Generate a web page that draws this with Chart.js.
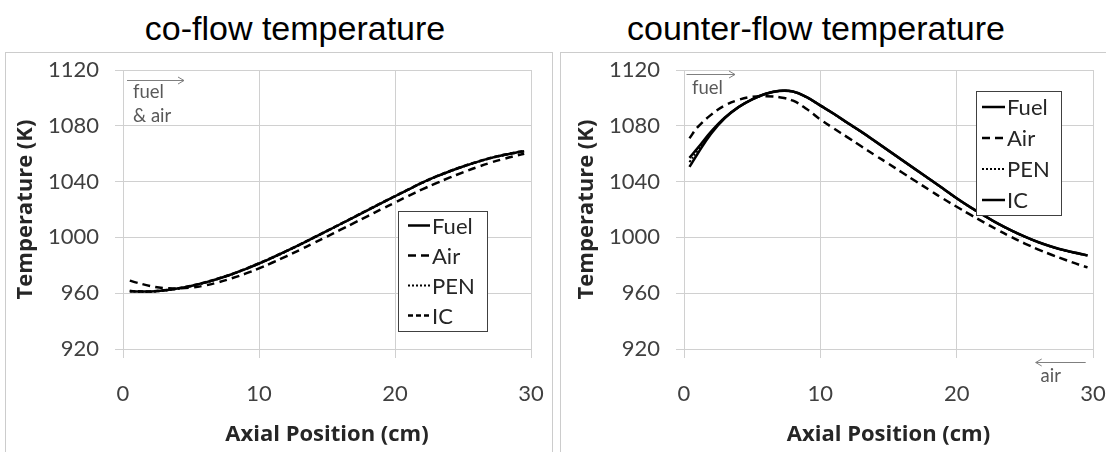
<!DOCTYPE html>
<html><head><meta charset="utf-8">
<script src="https://cdn.jsdelivr.net/npm/chart.js@4.4.1/dist/chart.umd.min.js"></script>
<style>
html,body{margin:0;padding:0;background:#fff;width:1106px;height:452px;overflow:hidden;}
#wrap{position:relative;width:1106px;height:452px;}
.panel{position:absolute;border:1px solid #cccccc;}
.ttl{position:absolute;font-family:"Liberation Sans",Arial,sans-serif;font-size:34px;line-height:40px;color:#000;white-space:nowrap;transform:translateX(-50%);}
canvas{position:absolute;top:0;}
</style></head><body>
<div id="wrap">
<div class="panel" style="left:5px;top:52px;width:546px;height:420px;"></div>
<div class="panel" style="left:560px;top:52px;width:560px;height:420px;"></div>
<div class="ttl" style="left:295px;top:8px;">co-flow temperature</div>
<div class="ttl" style="left:816px;top:8px;">counter-flow temperature</div>
<canvas id="c1" width="553" height="452" style="left:0"></canvas>
<canvas id="c2" width="550" height="452" style="left:556px"></canvas>
</div>
<script>
// ---------- data ----------
const xTicks = [0, 10, 20, 30];
const yTicks = [920, 960, 1000, 1040, 1080, 1120];
const seriesNames = ['Fuel', 'Air', 'PEN', 'IC'];

// co-flow (left)
const coX    = [0.5,1,2,3,4,5,6,7,8,9,10,11,12,13,14,15,16,17,18,19,20,21,22,23,24,25,26,27,28,29,29.5];
const coFuel = [961.5,961.3,961.2,962,963.3,965.2,967.6,970.4,973.6,977.3,981.3,985.6,990.1,994.8,999.7,1004.6,1009.6,1014.6,1019.6,1024.6,1029.5,1034.4,1039.2,1043.5,1047.3,1050.8,1054,1056.8,1059.1,1061,1061.8];
const coAir  = [969,967.6,965.2,963.7,963.4,964,965.5,967.8,970.7,974,977.8,982,986.4,991,995.8,1000.6,1005.5,1010.4,1015.3,1020.2,1025,1029.8,1034.4,1038.7,1042.8,1046.6,1050.2,1053.5,1056.3,1058.8,1060];
const coPEN  = [961.3,961.1,961,961.8,963.1,965,967.4,970.2,973.4,977.1,981.1,985.4,989.9,994.6,999.5,1004.4,1009.4,1014.4,1019.4,1024.4,1029.3,1034.2,1039,1043.3,1047.1,1050.6,1053.8,1056.6,1058.9,1060.8,1061.6];
const coIC   = [961.6,961.4,961.3,962.1,963.4,965.3,967.7,970.5,973.7,977.4,981.4,985.7,990.2,994.9,999.8,1004.7,1009.7,1014.7,1019.7,1024.7,1029.6,1034.5,1039.3,1043.6,1047.4,1050.9,1054.1,1056.9,1059.2,1061.1,1061.9];

// counter-flow (right)
const ctX    = [0.4,1,2,3,4,5,6,7,8,9,10,11,12,13,14,15,16,17,18,19,20,21,22,23,24,25,26,27,28,29,29.6];
const ctFuel = [1057,1064,1076,1086,1093.5,1099,1103,1105,1104.5,1100.5,1094.5,1088.5,1082,1075.7,1069,1062.2,1055.4,1048.6,1041.8,1035,1028,1021.6,1015.7,1010,1005,1000.5,996.5,993.2,990.5,988.3,987];
const ctAir  = [1071,1079,1088,1094.6,1098.6,1100.8,1101.2,1100.5,1098,1092,1084.5,1078,1071.7,1065.3,1059,1052.8,1046.5,1040.2,1034,1027.8,1022,1016.3,1010.8,1005.4,1000.3,995.6,991.3,987.4,983.8,980.3,978.5];
const ctPEN  = [1054,1062.5,1075.5,1085.8,1093.3,1098.9,1102.9,1104.9,1104.4,1100.4,1094.4,1088.4,1081.9,1075.6,1068.9,1062.1,1055.3,1048.5,1041.7,1034.9,1027.9,1021.5,1015.6,1009.9,1004.9,1000.4,996.4,993.1,990.4,988.2,986.9];
const ctIC   = [1050.5,1060,1074.5,1085.5,1093.4,1099,1103,1105.1,1104.6,1100.6,1094.6,1088.6,1082.1,1075.8,1069.1,1062.3,1055.5,1048.7,1041.9,1035.1,1028.1,1021.7,1015.8,1010.1,1005.1,1000.6,996.6,993.3,990.6,988.4,987.1];

// ---------- plugins ----------
const legendPlugin = {
  id: 'boxLegend',
  afterDatasetsDraw(chart, args, o) {
    const ctx = chart.ctx, a = chart.chartArea;
    const x = Math.round(a.left + o.dx), y = Math.round(a.top + o.dy);
    ctx.save();
    ctx.fillStyle = '#fff';
    ctx.fillRect(x, y, o.w, o.h);
    ctx.strokeStyle = '#404040'; ctx.lineWidth = 1;
    ctx.strokeRect(x + 0.5, y + 0.5, o.w, o.h);
    chart.data.datasets.forEach((ds, i) => {
      const cy = y + o.first + i * o.step;
      ctx.beginPath();
      ctx.setLineDash(ds.borderDash || []);
      ctx.lineWidth = ds.borderWidth;
      ctx.strokeStyle = ds.borderColor;
      ctx.moveTo(x + o.sx, cy); ctx.lineTo(x + o.sx + o.sw, cy);
      ctx.stroke();
      ctx.setLineDash([]);
      ctx.fillStyle = '#262626';
      ctx.font = '22px Lato';
      ctx.textBaseline = 'middle'; ctx.textAlign = 'left';
      ctx.fillText(ds.label, x + o.sx + o.sw + 2, cy + 1);
    });
    ctx.restore();
  }
};
const notesPlugin = {
  id: 'flowNotes',
  afterDraw(chart, args, o) {
    const ctx = chart.ctx, a = chart.chartArea;
    ctx.save();
    (o.items || []).forEach(it => {
      if (it.kind === 'arrow') {
        const x1 = a.left + it.x1, x2 = a.left + it.x2, y = Math.round(a.top + it.y) + 0.5;
        const d = x2 > x1 ? 1 : -1;
        ctx.strokeStyle = '#7f7f7f'; ctx.lineWidth = 1;
        ctx.beginPath(); ctx.moveTo(x1, y); ctx.lineTo(x2, y);
        ctx.moveTo(x2 - d * 6, y - 3.5); ctx.lineTo(x2, y); ctx.lineTo(x2 - d * 6, y + 3.5);
        ctx.stroke();
      } else {
        ctx.fillStyle = '#595959';
        ctx.font = '18.5px Lato';
        ctx.textBaseline = 'middle'; ctx.textAlign = 'left';
        ctx.fillText(it.text, a.left + it.x, a.top + it.y);
      }
    });
    ctx.restore();
  }
};

const gridC = '#d0d0d0';
const titleFont = { family: '"Open Sans"', size: 22, weight: 'bold' };
function makeChart(id, xs, series, cfg) {
  const datasets = series.map((s, i) => ({
    label: seriesNames[i],
    data: xs.map((x, j) => ({ x: x, y: s[j] })),
    borderColor: '#000',
    borderWidth: cfg.styles[i].w,
    borderDash: cfg.styles[i].dash,
    pointRadius: 0,
    fill: false,
    tension: 0.4
  }));
  return new Chart(document.getElementById(id), {
    type: 'line',
    data: { datasets },
    options: {
      responsive: false, animation: false, events: [],
      layout: { padding: { left: 0, right: cfg.padRight, top: 70, bottom: 0 } },
      plugins: {
        legend: { display: false }, tooltip: { enabled: false },
        boxLegend: cfg.legend, flowNotes: { items: cfg.notes }
      },
      scales: {
        x: {
          type: 'linear', min: 0, max: 30,
          afterBuildTicks: s => { s.ticks = xTicks.map(v => ({ value: v })); },
          afterFit: s => { s.height = 103; s.paddingLeft = 0; s.paddingRight = 0; },
          grid: { color: gridC, lineWidth: 1, tickLength: 9 },
          border: { display: false },
          ticks: { padding: 23, font: { family: 'Lato', size: 22 }, color: '#404040', callback: v => String(v), maxRotation: 0 },
          title: { display: true, text: 'Axial Position (cm)', font: titleFont, color: '#262626', padding: { top: 0, bottom: 3.8 } }
        },
        y: {
          min: 920, max: 1120,
          afterBuildTicks: s => { s.ticks = yTicks.map(v => ({ value: v })); },
          afterFit: s => { s.width = cfg.yWidth; },
          grid: { color: gridC, lineWidth: 1, tickLength: 8 },
          border: { display: false },
          ticks: { padding: 16, font: { family: 'Lato', size: 22 }, color: '#404040', callback: v => String(v) },
          title: { display: true, text: 'Temperature (K)', font: titleFont, color: '#262626', padding: { top: cfg.yTitlePad, bottom: 0 } }
        }
      }
    },
    plugins: [legendPlugin, notesPlugin]
  });
}

makeChart('c1', coX, [coFuel, coAir, coPEN, coIC], {
  styles: [{ w: 2.5, dash: [] }, { w: 2.5, dash: [8, 5] }, { w: 2, dash: [2, 2] }, { w: 2.5, dash: [5, 3] }],
  padRight: 22, yWidth: 123, yTitlePad: 12.8,
  legend: { dx: 275, dy: 141, w: 89, h: 120, first: 14.5, step: 30, sx: 10, sw: 22 },
  notes: [
    { kind: 'arrow', x1: 4, x2: 61, y: 10 },
    { kind: 'text', x: 10, y: 22.5, text: 'fuel' },
    { kind: 'text', x: 10, y: 46.5, text: '& air' }
  ]
});

makeChart('c2', ctX, [ctFuel, ctAir, ctPEN, ctIC], {
  styles: [{ w: 2.5, dash: [] }, { w: 2.5, dash: [8, 5] }, { w: 2, dash: [2, 2] }, { w: 2.5, dash: [] }],
  padRight: 13, yWidth: 128, yTitlePad: 17.8,
  legend: { dx: 291.5, dy: 21, w: 85, h: 124, first: 16, step: 31, sx: 6, sw: 23 },
  notes: [
    { kind: 'arrow', x1: 2.5, x2: 51, y: 4.3 },
    { kind: 'text', x: 8, y: 18.3, text: 'fuel' },
    { kind: 'arrow', x1: 401.7, x2: 351.7, y: 292 },
    { kind: 'text', x: 356.5, y: 306, text: 'air' }
  ]
});
</script>
</body></html>
